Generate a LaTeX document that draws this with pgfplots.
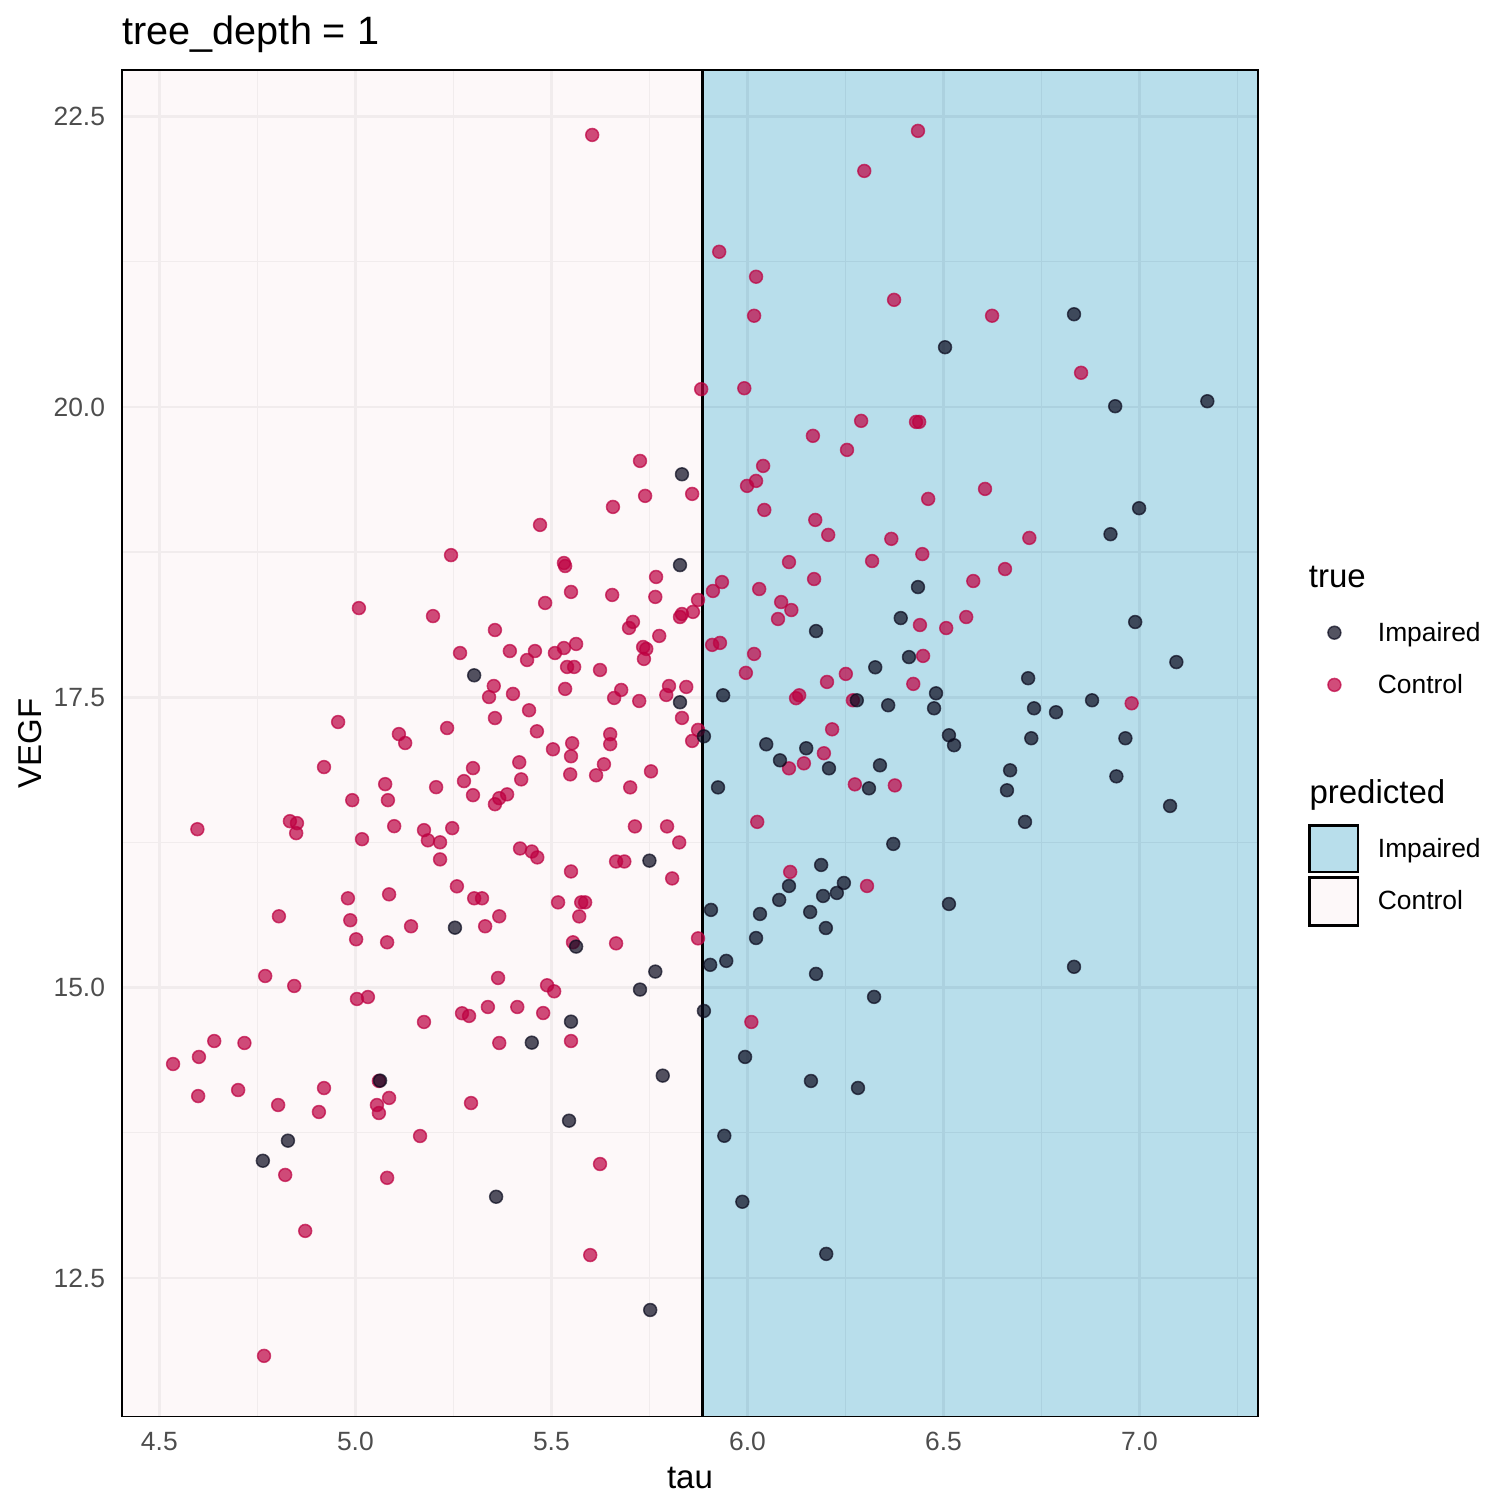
\documentclass[border=0pt]{standalone}
\usepackage{pgfplots}
\usepackage{pgfplotstable}
\pgfplotsset{compat=1.18}
\usepackage{fontspec}
\setmainfont{Liberation Sans}
\definecolor{ctrlpt}{RGB}{189,0,65}
\definecolor{imppt}{RGB}{10,10,30}
\definecolor{bgctrl}{RGB}{250,238,240}
\definecolor{bgimp}{RGB}{78,172,205}
\definecolor{legimp}{RGB}{184,222,235}
\definecolor{legctrl}{RGB}{253,248,249}
\definecolor{gridc}{RGB}{235,235,235}
\definecolor{ticklab}{RGB}{77,77,77}

\pgfplotstableread{
x y
6.504 20.514
6.833 20.798
6.938 20.006
7.173 20.049
6.999 19.128
6.926 18.904
6.435 18.449
6.391 18.182
6.989 18.148
6.412 17.846
7.094 17.803
6.326 17.758
6.175 18.070
5.938 17.517
6.279 17.474
6.716 17.664
6.481 17.534
6.359 17.431
6.476 17.405
6.731 17.405
6.787 17.371
6.879 17.474
6.724 17.147
6.964 17.147
6.514 17.173
6.527 17.087
6.048 17.095
6.150 17.061
6.083 16.957
6.208 16.888
6.338 16.914
6.670 16.871
6.662 16.699
6.941 16.819
7.078 16.564
6.310 16.716
5.925 16.724
6.708 16.427
6.372 16.237
6.188 16.056
6.106 15.875
6.246 15.901
6.228 15.815
6.193 15.789
6.081 15.755
5.907 15.669
6.032 15.634
6.160 15.651
6.200 15.513
6.022 15.427
6.514 15.720
5.946 15.230
5.905 15.196
6.175 15.118
6.323 14.920
6.833 15.179
5.889 14.799
5.994 14.403
6.162 14.196
6.282 14.136
5.941 13.724
5.987 13.156
6.201 12.707
5.833 19.420
5.828 18.638
5.828 17.457
5.889 17.164
5.303 17.689
5.750 16.093
5.254 15.516
5.563 15.353
5.765 15.138
5.726 14.983
5.550 14.707
5.450 14.526
5.063 14.199
5.784 14.242
5.545 13.854
4.828 13.682
4.764 13.509
5.359 13.199
5.752 12.224
}\impaired

\pgfplotstableread{
x y
6.435 22.377
6.298 22.032
5.928 21.336
6.022 21.121
6.017 20.785
6.374 20.922
6.624 20.785
6.851 20.294
5.882 20.153
5.992 20.161
6.290 19.880
6.430 19.871
6.438 19.871
6.167 19.751
6.254 19.630
6.040 19.492
6.022 19.363
5.999 19.320
6.461 19.208
6.606 19.294
6.043 19.113
6.173 19.027
6.206 18.898
6.367 18.864
6.719 18.872
6.446 18.733
6.106 18.664
6.318 18.673
6.657 18.604
6.576 18.501
5.912 18.415
5.935 18.492
6.030 18.432
6.170 18.518
6.086 18.320
6.112 18.251
6.078 18.174
6.440 18.122
6.507 18.096
6.558 18.191
5.910 17.951
5.930 17.968
6.017 17.873
5.996 17.710
6.203 17.632
6.251 17.701
6.448 17.856
6.423 17.615
6.124 17.492
6.132 17.517
6.269 17.474
6.980 17.448
6.216 17.224
6.195 17.018
6.106 16.888
6.144 16.931
6.274 16.750
6.376 16.741
6.025 16.427
6.109 15.996
6.305 15.875
6.010 14.704
5.604 22.342
5.726 19.535
5.739 19.234
5.859 19.251
5.657 19.139
5.471 18.984
5.535 18.630
5.532 18.656
5.244 18.724
5.009 18.268
5.198 18.199
5.356 18.079
5.267 17.881
5.353 17.597
5.341 17.502
5.356 17.321
4.956 17.287
5.234 17.235
5.111 17.183
5.127 17.106
4.920 16.899
5.076 16.752
5.206 16.726
5.300 16.890
5.277 16.778
5.300 16.657
5.356 16.579
5.367 16.631
4.992 16.614
5.083 16.614
4.597 16.364
4.833 16.433
4.851 16.416
4.849 16.330
5.099 16.390
5.175 16.356
5.247 16.373
5.017 16.278
5.185 16.268
5.216 16.251
5.216 16.104
5.259 15.872
4.981 15.769
5.086 15.803
5.303 15.769
5.323 15.769
4.805 15.614
4.987 15.580
5.367 15.614
5.002 15.416
5.081 15.390
5.142 15.528
5.331 15.528
4.770 15.100
4.844 15.014
5.004 14.902
5.032 14.919
5.364 15.083
5.767 18.536
5.550 18.407
5.655 18.381
5.765 18.364
5.484 18.312
5.874 18.338
5.861 18.235
5.833 18.217
5.828 18.191
5.708 18.149
5.698 18.097
5.775 18.028
5.563 17.959
5.532 17.924
5.509 17.881
5.394 17.898
5.458 17.898
5.438 17.821
5.734 17.933
5.742 17.916
5.736 17.830
5.540 17.761
5.558 17.761
5.624 17.735
5.535 17.572
5.402 17.529
5.678 17.563
5.660 17.494
5.724 17.468
5.800 17.597
5.793 17.520
5.844 17.589
5.833 17.322
5.874 17.219
5.859 17.124
5.443 17.388
5.463 17.207
5.504 17.052
5.553 17.104
5.550 16.992
5.650 17.182
5.650 17.096
5.418 16.940
5.423 16.793
5.548 16.836
5.614 16.828
5.634 16.923
5.754 16.862
5.701 16.724
5.387 16.664
5.713 16.388
5.795 16.388
5.826 16.250
5.420 16.198
5.450 16.172
5.464 16.121
5.550 16.000
5.665 16.086
5.686 16.086
5.808 15.940
5.517 15.734
5.576 15.734
5.586 15.734
5.571 15.613
5.555 15.390
5.665 15.381
5.874 15.424
5.489 15.020
5.507 14.968
5.272 14.779
5.290 14.756
5.338 14.833
5.175 14.704
5.367 14.523
4.640 14.540
4.717 14.523
4.601 14.403
4.535 14.342
4.599 14.066
4.701 14.118
4.803 13.989
4.920 14.135
4.907 13.929
5.060 14.196
5.086 14.050
5.055 13.989
5.060 13.920
5.295 14.006
5.165 13.722
4.821 13.387
5.081 13.362
4.872 12.905
4.767 11.829
5.413 14.833
5.479 14.781
5.550 14.540
5.624 13.481
5.599 12.697
}\control

\begin{document}
\begin{tikzpicture}
\path[use as bounding box] (0,0) rectangle (504pt,504pt);
\begin{axis}[
  at={(40.7pt,31.8pt)}, anchor=south west,
  scale only axis, width=378.6pt, height=448.9pt,
  xmin=4.405, xmax=7.302, ymin=11.306, ymax=22.902,
  clip=false,
  xtick={4.5,5.0,5.5,6.0,6.5,7.0},
  ytick={12.5,15.0,17.5,20.0,22.5},
  minor xtick={4.75,5.25,5.75,6.25,6.75,7.25},
  minor ytick={13.75,16.25,18.75,21.25},
  grid=both,
  major grid style={gridc, line width=0.9pt},
  minor grid style={gridc, line width=0.45pt},
  major tick length=0pt, minor tick length=0pt,
  axis line style={draw=none},
  /pgf/number format/assume math mode=true,
  /pgf/number format/fixed, /pgf/number format/fixed zerofill,
  /pgf/number format/precision=1,
  xticklabel style={font=\fontsize{8.8}{10}\selectfont, text=ticklab, anchor=north, inner sep=0pt, yshift=-5pt},
  yticklabel style={font=\fontsize{8.8}{10}\selectfont, text=ticklab, anchor=east, inner sep=0pt, xshift=-5.5pt},
  xlabel={tau}, ylabel={VEGF},
  xlabel style={at={(rel axis cs:0.5,-0.0457)}, anchor=center, inner sep=0pt, font=\fontsize{11}{13}\selectfont},
  ylabel style={at={(rel axis cs:-0.0811,0.5)}, anchor=center, inner sep=0pt, font=\fontsize{11}{13}\selectfont},
  title={tree\_depth = 1},
  title style={at={(rel axis cs:0,1.0185)}, anchor=base west, yshift=-6pt, inner sep=0pt, font=\fontsize{13.2}{15}\selectfont},
]
\addplot[draw=none, fill=bgctrl, fill opacity=0.4] coordinates {(4.405,11.306) (5.885,11.306) (5.885,22.902) (4.405,22.902)} -- cycle;
\addplot[draw=none, fill=bgimp, fill opacity=0.4] coordinates {(5.885,11.306) (7.302,11.306) (7.302,22.902) (5.885,22.902)} -- cycle;
\addplot[black, line width=0.9pt] coordinates {(5.885,11.306) (5.885,22.902)};
\addplot[only marks, mark=*, mark size=2.15pt, mark options={fill=ctrlpt, draw=ctrlpt, fill opacity=0.7, draw opacity=0.7, line width=0.5pt}] table {\control};
\addplot[only marks, mark=*, mark size=2.15pt, mark options={fill=imppt, draw=imppt, fill opacity=0.7, draw opacity=0.7, line width=0.5pt}] table {\impaired};
\draw[black, line width=0.5pt] (rel axis cs:0,0) rectangle (rel axis cs:1,1);
\end{axis}
\begin{axis}[
  at={(430pt,180pt)}, anchor=south west,
  scale only axis, width=74pt, height=140pt,
  xmin=430, xmax=504, ymin=180, ymax=320,
  hide axis, clip=false,
]
\addplot[only marks, mark=*, mark size=2.15pt, mark options={fill=imppt, draw=imppt, fill opacity=0.7, draw opacity=0.7, line width=0.5pt}] coordinates {(444.8,293.1)};
\addplot[only marks, mark=*, mark size=2.15pt, mark options={fill=ctrlpt, draw=ctrlpt, fill opacity=0.7, draw opacity=0.7, line width=0.5pt}] coordinates {(444.8,275.7)};
\addplot[draw=black, line width=0.9pt, fill=legimp] coordinates {(436.6,213.3) (452.7,213.3) (452.7,228.8) (436.6,228.8)} -- cycle;
\addplot[draw=black, line width=0.9pt, fill=legctrl] coordinates {(436.6,195.6) (452.7,195.6) (452.7,211.4) (436.6,211.4)} -- cycle;
\node[anchor=base west, inner sep=0pt, font=\fontsize{11}{13}\selectfont] at (axis cs:436.1,308.2) {true};
\node[anchor=base west, inner sep=0pt, font=\fontsize{8.8}{10}\selectfont] at (axis cs:459.1,290.1) {Impaired};
\node[anchor=base west, inner sep=0pt, font=\fontsize{8.8}{10}\selectfont] at (axis cs:459.1,272.7) {Control};
\node[anchor=base west, inner sep=0pt, font=\fontsize{11}{13}\selectfont] at (axis cs:436.3,236.2) {predicted};
\node[anchor=base west, inner sep=0pt, font=\fontsize{8.8}{10}\selectfont] at (axis cs:459.1,218.1) {Impaired};
\node[anchor=base west, inner sep=0pt, font=\fontsize{8.8}{10}\selectfont] at (axis cs:459.1,200.7) {Control};
\end{axis}
\end{tikzpicture}
\end{document}
